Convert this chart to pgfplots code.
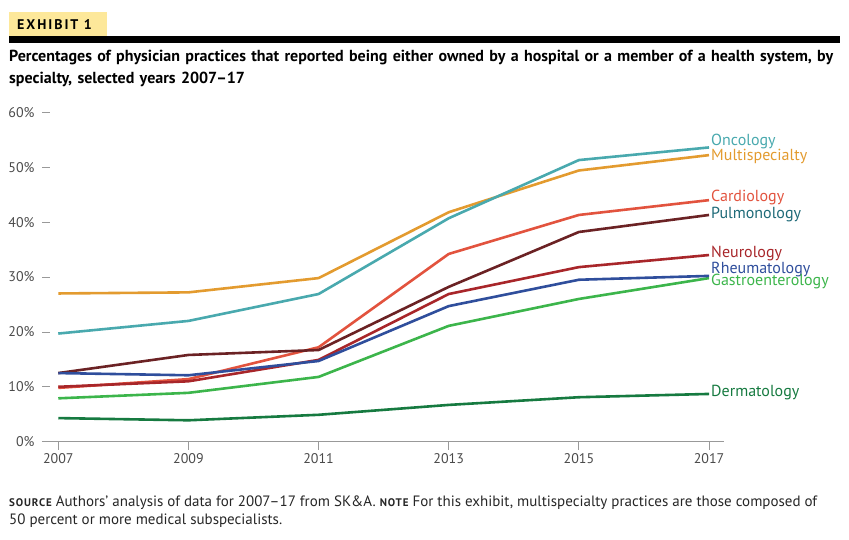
\documentclass[border=0pt]{standalone}
\usepackage{pgfplots}
\pgfplotsset{compat=1.18}
\usepackage{fontspec}
\setmainfont{PT Sans}

\definecolor{onco}{HTML}{49A9AE}
\definecolor{multi}{HTML}{E39B2F}
\definecolor{cardio}{HTML}{E2533E}
\definecolor{pulmo}{HTML}{6B2224}
\definecolor{pulmolab}{HTML}{1E6A78}
\definecolor{neuro}{HTML}{A8262A}
\definecolor{rheum}{HTML}{2F4E9C}
\definecolor{gastro}{HTML}{3CB54B}
\definecolor{derma}{HTML}{167A40}
\definecolor{exhibit}{HTML}{FDE89A}
\definecolor{ticktext}{HTML}{4A4A4A}

\begin{document}
\begin{tikzpicture}[x=1pt,y=1pt]
\useasboundingbox (0,0) rectangle (849,539);

% header
\fill[exhibit] (9,539-37) rectangle (107,539-12);
\node[anchor=west, inner sep=0pt, font=\fontsize{14}{16}\selectfont\bfseries]
  at (17,539-25) {\addfontfeature{LetterSpace=14}EXHIBIT 1};
\fill[black] (9,539-43) rectangle (840,539-36);
\node[anchor=north west, inner sep=0pt, text width=832pt, align=left,
  font=\fontsize{16}{22}\selectfont\bfseries] at (9,539-50)
  {Percentages of physician practices that reported being either owned by a hospital or a member of a health system, by specialty, selected years 2007--17};

\begin{axis}[
  at={(42pt,97.3pt)}, anchor=south west,
  width=682pt, height=329.4pt, scale only axis,
  xmin=2006.75, xmax=2017.23,
  ymin=0, ymax=60,
  axis x line*=bottom,
  axis y line*=left,
  y axis line style={draw=none},
  x axis line style={draw=gray!80, line width=0.8pt, -},
  xtick={2007,2009,2011,2013,2015,2017},
  xticklabels={2007,2009,2011,2013,2015,2017},
  ytick={0,10,20,30,40,50,60},
  yticklabel={\pgfmathprintnumber{\tick}\%},
  /pgf/number format/assume math mode=true,
  tick align=outside,
  major tick length=8pt,
  x tick style={draw=gray!80, line width=0.8pt},
  y tick style={draw=gray!80, line width=0.8pt, xshift=8pt},
  tick label style={font=\fontsize{14}{16}\selectfont, text=ticktext},
  yticklabel style={xshift=4pt},
  clip=false,
  line join=round,
  every axis plot/.append style={line width=2.6pt},
]
\addplot[multi] coordinates {(2007,27.0) (2009,27.2) (2011,29.8) (2013,41.8) (2015,49.4) (2017,52.2)};
\addplot[onco] coordinates {(2007,19.7) (2009,22.0) (2011,26.9) (2013,40.7) (2015,51.3) (2017,53.6)};
\addplot[derma] coordinates {(2007,4.3) (2009,3.9) (2011,4.9) (2013,6.7) (2015,8.1) (2017,8.7)};
\addplot[gastro] coordinates {(2007,7.9) (2009,8.9) (2011,11.8) (2013,21.1) (2015,26.0) (2017,29.8)};
\addplot[cardio] coordinates {(2007,9.8) (2009,11.4) (2011,17.2) (2013,34.2) (2015,41.3) (2017,44.0)};
\addplot[neuro] coordinates {(2007,10.0) (2009,11.0) (2011,14.9) (2013,26.9) (2015,31.8) (2017,34.0)};
\addplot[pulmo] coordinates {(2007,12.5) (2009,15.8) (2011,16.7) (2013,28.2) (2015,38.2) (2017,41.3)};
\addplot[rheum] coordinates {(2007,12.5) (2009,12.1) (2011,14.7) (2013,24.7) (2015,29.5) (2017,30.2)};

\begin{scope}[every node/.style={anchor=west, inner sep=0pt, xshift=2pt, font=\fontsize{16}{18}\selectfont}]
\node[text=onco] at (axis cs:2017,54.6) {Oncology};
\node[text=multi] at (axis cs:2017,51.9) {Multispecialty};
\node[text=cardio] at (axis cs:2017,44.4) {Cardiology};
\node[text=pulmolab] at (axis cs:2017,41.3) {Pulmonology};
\node[text=neuro] at (axis cs:2017,34.2) {Neurology};
\node[text=rheum] at (axis cs:2017,31.3) {Rheumatology};
\node[text=gastro] at (axis cs:2017,29.1) {Gastroenterology};
\node[text=derma] at (axis cs:2017,9.0) {Dermatology};
\end{scope}
\end{axis}

% footnote
\node[anchor=north west, inner sep=0pt, align=left,
  font=\fontsize{15}{18}\selectfont, text=black!85] at (9,539-496)
  {{\fontsize{11}{12}\selectfont\bfseries\addfontfeature{LetterSpace=8}SOURCE} Authors' analysis of data for 2007--17 from SK\&A. {\fontsize{11}{12}\selectfont\bfseries\addfontfeature{LetterSpace=8}NOTE} For this exhibit, multispecialty practices are those composed of\\
   50 percent or more medical subspecialists.};
\end{tikzpicture}
\end{document}
